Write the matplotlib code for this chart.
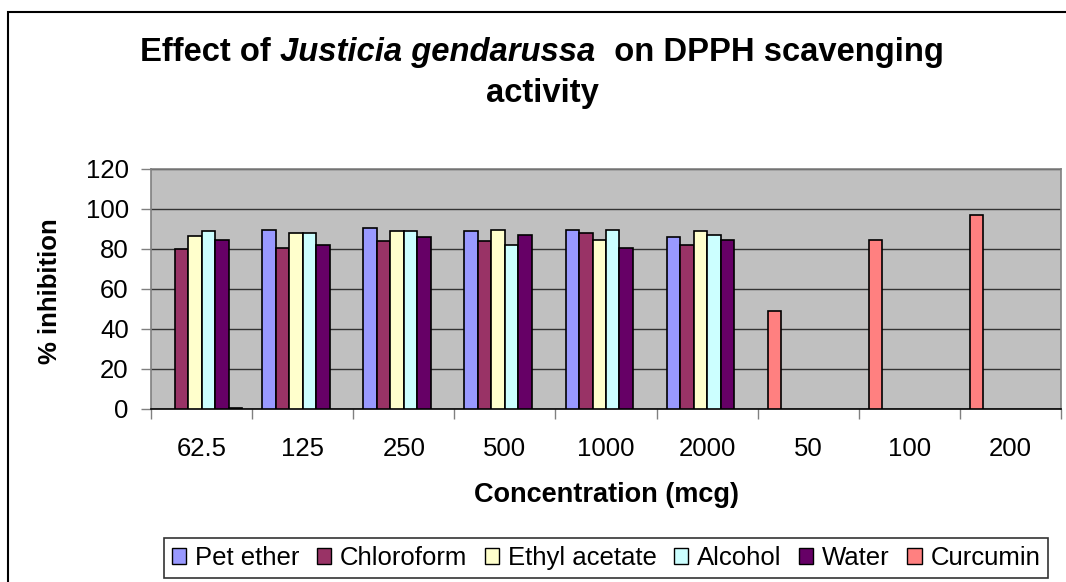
import numpy as np
import matplotlib.pyplot as plt
from matplotlib.patches import Rectangle, Patch

plt.rcParams['font.family'] = ['Liberation Sans', 'DejaVu Sans']

# concentrations (mcg)
categories = ['62.5', '125', '250', '500', '1000', '2000', '50', '100', '200']
nan = np.nan

# % inhibition per extract
pet_ether = [nan, 89.5, 90.3, 88.8, 89.5, 86.2, nan, nan, nan]
chloroform = [80.0, 80.5, 83.8, 83.8, 87.8, 82.0, nan, nan, nan]
ethyl_acetate = [86.3, 87.8, 89.0, 89.5, 84.5, 88.8, nan, nan, nan]
alcohol = [89.0, 87.8, 89.0, 82.0, 89.5, 86.8, nan, nan, nan]
water = [84.7, 82.0, 86.2, 86.8, 80.5, 84.5, nan, nan, nan]
curcumin = [0.7, nan, nan, nan, nan, nan, 48.8, 84.7, 97.2]

series = [
    ('Pet ether', pet_ether, '#9999FF'),
    ('Chloroform', chloroform, '#993366'),
    ('Ethyl acetate', ethyl_acetate, '#FFFFCC'),
    ('Alcohol', alcohol, '#CCFFFF'),
    ('Water', water, '#660066'),
    ('Curcumin', curcumin, '#FF8080'),
]

W, H = 1066, 582
fig = plt.figure(figsize=(W / 100, H / 100), dpi=100)
ax = fig.add_axes([151 / W, 1 - 409 / H, 910 / W, 240 / H])
ax.set_facecolor('#C0C0C0')

x = np.arange(len(categories))
n = len(series)
bw = 0.8 / n
for i, (name, vals, col) in enumerate(series):
    vals = np.array(vals, dtype=float)
    slot = np.full(len(vals), i)
    if name == 'Curcumin':
        # the standard sits in the first slot of its own categories
        slot[6:] = 0
    pos = x - 0.4 + bw * (slot + 0.5)
    ax.bar(pos, vals, width=bw, color=col, edgecolor='black', linewidth=1.2, zorder=3)

ax.set_xlim(-0.5, len(categories) - 0.5)
ax.set_ylim(0, 120)
ax.set_yticks(np.arange(0, 121, 20))
ax.yaxis.grid(True, color='#333333', linewidth=1, zorder=1)
ax.set_axisbelow(True)
ax.tick_params(axis='y', direction='out', length=7, width=1, color='#808080',
               labelsize=18.5, pad=9)

ax.set_xticks(np.arange(len(categories) + 1) - 0.5)
ax.set_xticklabels([])
ax.set_xticks(x, minor=True)
ax.set_xticklabels(categories, minor=True, fontsize=18.5)
ax.tick_params(axis='x', which='major', direction='out', length=7, width=1, color='#808080')
ax.tick_params(axis='x', which='minor', length=0, pad=20)

for s in ['top', 'right', 'left']:
    ax.spines[s].set_color('#808080')
    ax.spines[s].set_linewidth(1.2)
ax.spines['bottom'].set_color('black')
ax.spines['bottom'].set_linewidth(1.2)

fig.text(50 / W, 1 - 291 / H, '% inhibition', rotation=90, fontsize=18.5,
         fontweight='bold', ha='center', va='center')
fig.text(606 / W, 1 - 495 / H, 'Concentration (mcg)', fontsize=19.5,
         fontweight='bold', ha='center', va='center')

# title with italic species name
fig.canvas.draw()
r = fig.canvas.get_renderer()
parts = [('Effect of ', 'normal'), ('Justicia gendarussa', 'italic'),
         ('  on DPPH scavenging', 'normal')]
texts = [fig.text(0, 1 - 61 / H, p, fontsize=23.6, fontweight='bold', style=st,
                  va='baseline', ha='left') for p, st in parts]
widths = [t.get_window_extent(r).width for t in texts]
x0 = 542 - sum(widths) / 2
for t, w in zip(texts, widths):
    t.set_x(x0 / W)
    x0 += w
fig.text(542 / W, 1 - 102 / H, 'activity', fontsize=23.6, fontweight='bold',
         ha='center', va='baseline')

# outer chart border
fig.patches.append(Rectangle((8 / W, -0.05), 1.1, 1 - 12 / H + 0.05,
                             transform=fig.transFigure, fill=False,
                             edgecolor='black', linewidth=1.5))

handles = [Patch(facecolor=c, edgecolor='black', label=nm) for nm, _, c in series]
leg = fig.legend(handles=handles, loc='center', ncol=6,
                 bbox_to_anchor=(606 / W, 1 - 558 / H), fontsize=18.5,
                 frameon=True, fancybox=False, edgecolor='black',
                 handlelength=0.55, handleheight=0.55, handletextpad=0.35,
                 columnspacing=0.68, borderpad=0.3, borderaxespad=0)
leg.get_frame().set_linewidth(1.2)

fig.savefig('out.png', dpi=100)
